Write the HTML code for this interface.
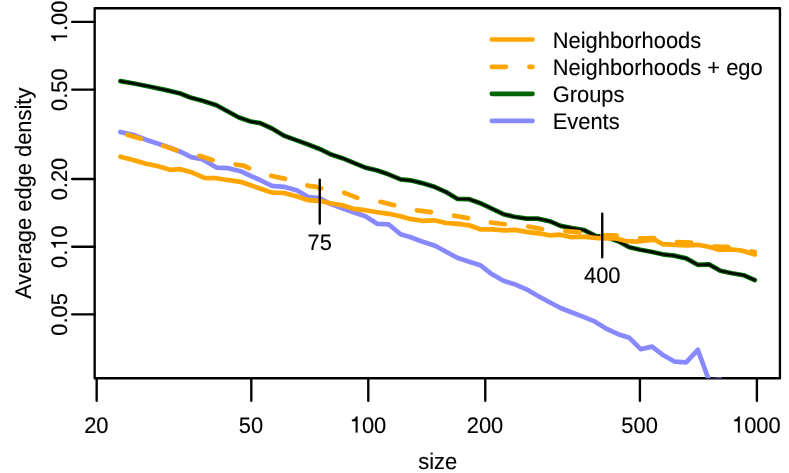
<!DOCTYPE html>
<html><head><meta charset="utf-8">
<style>
html,body{margin:0;padding:0;background:#fff;}
svg{display:block;will-change:transform;}
text{font-family:"Liberation Sans",sans-serif;font-size:21.9px;text-rendering:geometricPrecision;fill:#000;stroke:#000;stroke-width:0.12px;}
</style></head><body>
<svg width="789" height="473" viewBox="0 0 789 473">
<rect width="789" height="473" fill="#fff"/>
<defs><clipPath id="cp"><rect x="94.67" y="8.24" width="685.28" height="370.03"/></clipPath></defs>
<rect x="94.67" y="8.24" width="685.28" height="370.03" fill="none" stroke="#000" stroke-width="2.35" stroke-linejoin="round"/>
<g stroke="#000" stroke-width="2.35" stroke-linecap="round" fill="none">
<path d="M96.67,378.27V400.75 M251.31,378.27V400.75 M368.29,378.27V400.75 M485.27,378.27V400.75 M639.91,378.27V400.75 M756.9,378.27V400.75"/>
<path d="M94.67,21.93H72.2 M94.67,89.59H72.2 M94.67,179.04H72.2 M94.67,246.7H72.2 M94.67,314.36H72.2"/>
</g>
<g clip-path="url(#cp)" fill="none" stroke-linecap="round" stroke-linejoin="round">
<path d="M120.4,81.1 L134.1,83.5 L150.2,86.7 L166.2,90.1 L180.3,93.5 L190.3,97.5 L202.4,100.7 L216.4,105.2 L226.5,110.8 L239.0,117.5 L250.6,121.5 L260.2,123.1 L272.0,128.5 L284.1,135.7 L296.1,140.1 L308.2,144.5 L320.2,149.2 L330.3,154.2 L342.3,158.2 L354.4,163.2 L365.4,167.6 L376.5,170.2 L388.5,174.3 L400.6,179.3 L410.6,180.3 L422.0,183.1 L435.1,187.1 L446.1,192.1 L457.2,198.8 L469.2,199.2 L480.3,203.2 L492.3,208.8 L503.4,214.2 L514.4,216.8 L526.5,218.6 L537.5,218.6 L549.6,221.2 L560.6,225.9 L572.0,228.1 L584.1,230.1 L596.1,236.1 L606.2,237.1 L618.2,241.2 L629.3,247.2 L640.3,249.8 L652.4,252.0 L662.7,254.3 L674.1,255.6 L686.2,258.4 L697.7,264.8 L709.0,264.4 L720.3,270.8 L731.8,273.2 L743.5,275.2 L754.8,280.1" stroke="#006400" stroke-width="4.7"/>
<path d="M120.4,81.1 L134.1,83.5 L150.2,86.7 L166.2,90.1 L180.3,93.5 L190.3,97.5 L202.4,100.7 L216.4,105.2 L226.5,110.8 L239.0,117.5 L250.6,121.5 L260.2,123.1 L272.0,128.5 L284.1,135.7 L296.1,140.1 L308.2,144.5 L320.2,149.2 L330.3,154.2 L342.3,158.2 L354.4,163.2 L365.4,167.6 L376.5,170.2 L388.5,174.3 L400.6,179.3 L410.6,180.3 L422.0,183.1 L435.1,187.1 L446.1,192.1 L457.2,198.8 L469.2,199.2 L480.3,203.2 L492.3,208.8 L503.4,214.2 L514.4,216.8 L526.5,218.6 L537.5,218.6 L549.6,221.2 L560.6,225.9 L572.0,228.1 L584.1,230.1 L596.1,236.1 L606.2,237.1 L618.2,241.2 L629.3,247.2 L640.3,249.8 L652.4,252.0 L662.7,254.3 L674.1,255.6 L686.2,258.4 L697.7,264.8 L709.0,264.4 L720.3,270.8 L731.8,273.2 L743.5,275.2 L754.8,280.1" stroke="#000" stroke-width="2.35"/>
<path d="M120.4,132.0 L134.1,135.1 L146.1,139.7 L158.2,143.7 L170.2,147.7 L180.3,151.7 L191.3,157.1 L202.4,159.2 L216.4,167.6 L228.5,168.2 L240.5,171.2 L250.6,175.8 L260.0,180.0 L272.0,185.8 L284.1,186.8 L297.1,190.5 L308.2,197.1 L319.2,198.2 L330.3,203.8 L342.3,208.2 L353.4,212.2 L365.4,216.2 L377.5,223.9 L388.5,224.3 L400.6,234.3 L410.0,237.0 L422.0,241.5 L435.1,245.7 L446.1,251.7 L457.2,257.7 L469.2,261.7 L480.3,265.2 L491.3,273.8 L503.4,280.8 L514.4,284.2 L526.5,289.3 L537.5,295.7 L549.6,302.3 L560.6,308.0 L572.0,312.5 L584.1,317.1 L595.1,321.7 L607.2,329.2 L618.2,334.2 L629.3,337.8 L640.7,349.2 L652.0,346.6 L663.4,355.3 L674.9,361.7 L686.1,362.3 L697.8,349.8 L709.1,380.7 L720.5,379.7 L731.8,395.0" stroke="#8888ff" stroke-width="4.7"/>
<path d="M120.4,156.7 L134.1,160.2 L146.1,163.8 L158.2,166.2 L170.2,169.8 L180.3,169.2 L191.3,172.2 L204.4,177.8 L216.4,178.2 L228.5,180.2 L240.5,181.8 L250.6,185.3 L260.0,188.5 L272.0,192.6 L284.1,193.0 L297.1,196.6 L308.2,200.2 L319.2,200.8 L330.3,203.2 L342.3,205.2 L353.4,208.8 L365.4,210.2 L377.5,212.2 L388.5,213.8 L400.6,216.3 L410.0,218.9 L422.0,220.8 L434.1,220.3 L446.1,223.0 L458.2,223.9 L469.2,225.3 L480.3,229.3 L492.3,229.3 L504.4,230.3 L515.4,229.9 L526.5,231.9 L538.5,233.3 L549.6,235.3 L560.0,234.7 L571.5,237.2 L583.0,236.6 L593.0,237.6 L602.0,238.5 L616.0,238.5 L626.0,241.0 L636.2,241.6 L646.4,240.4 L655.0,239.9 L662.7,244.2 L675.4,244.8 L686.8,245.5 L697.6,244.8 L708.4,246.7 L719.8,249.9 L730.0,249.3 L741.4,250.5 L754.8,254.5" stroke="#ffa500" stroke-width="4.7"/>
<path d="M127.3,134.7 L140.1,138.5 L164.2,146.1 L176.3,150.3 L200.4,156.1 L212.4,160.0 L236.5,164.6 L243.3,165.5 L248.6,168.0 L272.0,176.0 L284.1,178.6 L308.6,185.8 L315.0,186.6 L320.6,188.2 L345.3,193.1 L356.8,197.6 L381.5,202.0 L393.5,205.0 L417.0,210.3 L432.1,212.2 L454.2,215.7 L469.2,218.3 L490.3,222.4 L506.4,224.4 L527.5,226.4 L542.5,229.1 L565.6,231.1 L580.0,232.2 L603.0,235.2 L617.0,235.5 L640.0,238.3 L654.0,238.1 L677.0,242.2 L691.0,242.5 L714.0,246.5 L728.0,246.9 L754.8,252.0" stroke="#ffa500" stroke-width="4.7" stroke-dasharray="14.1 23.4"/>
</g>
<g stroke="#000" stroke-width="2.35" stroke-linecap="round">
<path d="M319.74,179.6V223.6 M602.25,213.6V257.2"/>
</g>
<g fill="none" stroke-linecap="round" stroke-width="4.7">
<path d="M491.8,39.5H532.5" stroke="#ffa500"/>
<path d="M491.8,66.8H532.5" stroke="#ffa500" stroke-dasharray="14.1 23.5"/>
<path d="M491.8,93.8H532.5" stroke="#006400"/>
<path d="M491.8,120.8H532.5" stroke="#8888ff"/>
</g>
<text transform="translate(96.37,432.6) scale(1,1.03)" text-anchor="middle">20</text>
<text transform="translate(251.01,432.6) scale(1,1.03)" text-anchor="middle">50</text>
<g transform="translate(367.99,432.6) scale(1,1.03)"><path transform="translate(-18.27,0) scale(0.02190,-0.02190)" d="M359,0 L271,0 L271,505 L101,505 L101,568 C190,580 262,620 285,709 L359,709 Z" fill="#000" stroke="#000" stroke-width="5.5"/><text x="-6.09" y="0">00</text></g>
<text transform="translate(484.97,432.6) scale(1,1.03)" text-anchor="middle">200</text>
<text transform="translate(639.61,432.6) scale(1,1.03)" text-anchor="middle">500</text>
<g transform="translate(756.3,432.6) scale(1,1.03)"><path transform="translate(-24.36,0) scale(0.02190,-0.02190)" d="M359,0 L271,0 L271,505 L101,505 L101,568 C190,580 262,620 285,709 L359,709 Z" fill="#000" stroke="#000" stroke-width="5.5"/><text x="-12.18" y="0">000</text></g>
<text transform="translate(437.75,469.0) scale(1,1.03)" text-anchor="middle">size</text>
<g transform="translate(67.1,21.93) rotate(-90) scale(1,1.03)"><path transform="translate(-21.31,0) scale(0.02190,-0.02190)" d="M359,0 L271,0 L271,505 L101,505 L101,568 C190,580 262,620 285,709 L359,709 Z" fill="#000" stroke="#000" stroke-width="5.5"/><text x="-9.13" y="0">.00</text></g>
<text transform="translate(67.1,89.59) rotate(-90) scale(1,1.03)" text-anchor="middle">0.50</text>
<text transform="translate(67.1,179.04) rotate(-90) scale(1,1.03)" text-anchor="middle">0.20</text>
<g transform="translate(67.1,246.7) rotate(-90) scale(1,1.03)"><text x="-21.31" y="0">0.</text><path transform="translate(-3.05,0) scale(0.02190,-0.02190)" d="M359,0 L271,0 L271,505 L101,505 L101,568 C190,580 262,620 285,709 L359,709 Z" fill="#000" stroke="#000" stroke-width="5.5"/><text x="9.13" y="0">0</text></g>
<text transform="translate(67.1,314.36) rotate(-90) scale(1,1.03)" text-anchor="middle">0.05</text>
<text transform="translate(31.25,193.3) rotate(-90) scale(1,1.03)" text-anchor="middle">Average edge density</text>
<text transform="translate(319.74,250.0) scale(1,1.03)" text-anchor="middle">75</text>
<text transform="translate(602.25,283.3) scale(1,1.03)" text-anchor="middle">400</text>
<text transform="translate(552.7,47.7) scale(1,1.03)" text-anchor="start">Neighborhoods</text>
<text transform="translate(552.7,74.8) scale(1,1.03)" text-anchor="start">Neighborhoods + ego</text>
<text transform="translate(552.7,101.9) scale(1,1.03)" text-anchor="start">Groups</text>
<text transform="translate(552.7,129.0) scale(1,1.03)" text-anchor="start">Events</text>
</svg>
</body></html>
